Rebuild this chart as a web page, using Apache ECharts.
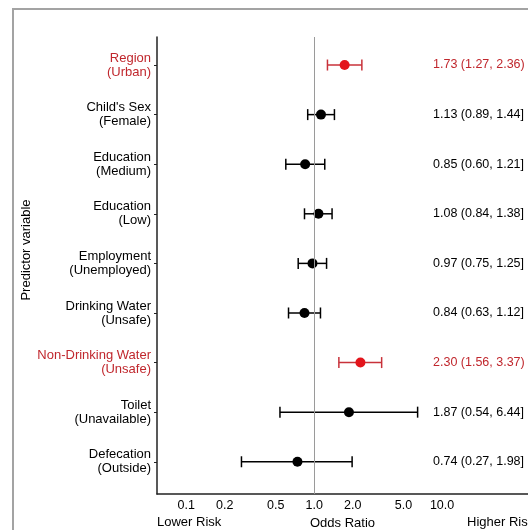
<!DOCTYPE html>
<html>
<head>
<meta charset="utf-8">
<script src="https://cdn.jsdelivr.net/npm/echarts@6/dist/echarts.min.js"></script>
<style>html,body{margin:0;padding:0;background:#fff}#c{width:528px;height:530px}</style>
</head>
<body>
<div id="c"></div>
<script>
const categories = ['Region\n(Urban)', "Child's Sex\n(Female)", 'Education\n(Medium)', 'Education\n(Low)', 'Employment\n(Unemployed)', 'Drinking Water\n(Unsafe)', 'Non-Drinking Water\n(Unsafe)', 'Toilet\n(Unavailable)', 'Defecation\n(Outside)'];
const oddsRatio = [1.73, 1.13, 0.85, 1.08, 0.97, 0.84, 2.30, 1.87, 0.74];
const lowerCI = [1.27, 0.89, 0.60, 0.84, 0.75, 0.63, 1.56, 0.54, 0.27];
const upperCI = [2.36, 1.44, 1.21, 1.38, 1.25, 1.12, 3.37, 6.44, 1.98];
const significant = [true, false, false, false, false, false, true, false, false];
const ciLabels = ['1.73 (1.27, 2.36)', '1.13 (0.89, 1.44]', '0.85 (0.60, 1.21]', '1.08 (0.84, 1.38]', '0.97 (0.75, 1.25]', '0.84 (0.63, 1.12]', '2.30 (1.56, 3.37)', '1.87 (0.54, 6.44]', '0.74 (0.27, 1.98]'];
const xTicks = [0.1, 0.2, 0.5, 1, 2, 5, 10];

const RED_TEXT = '#c0272d', RED_PT = '#e3141b', RED_BAR = '#c8323a';
const FONT = 'Liberation Sans, Arial, Helvetica, sans-serif';
const rowIdx = categories.map((_, i) => i);

const chart = echarts.init(document.getElementById('c'), null, {renderer: 'canvas'});
chart.setOption({
  animation: false,
  textStyle: {fontFamily: FONT},
  graphic: [
    {type: 'rect', shape: {x: 13, y: 9, width: 700, height: 700}, style: {fill: 'none', stroke: '#a3a3a3', lineWidth: 2}, z: -1},
    {type: 'text', x: 26, y: 250, rotation: Math.PI / 2, style: {text: 'Predictor variable', fontSize: 13, fontFamily: FONT, fill: '#000', align: 'center', verticalAlign: 'middle'}},
    {type: 'text', x: 157, y: 522, style: {text: 'Lower Risk', fontSize: 13, fontFamily: FONT, fill: '#000', align: 'left', verticalAlign: 'middle'}},
    {type: 'text', x: 467, y: 522, style: {text: 'Higher Risk', fontSize: 13, fontFamily: FONT, fill: '#000', align: 'left', verticalAlign: 'middle'}}
  ],
  grid: {left: 157, right: 0, top: 37, bottom: 36, containLabel: false, outerBoundsMode: 'none'},
  xAxis: {
    type: 'log', logBase: 10, min: 0.059, max: 47,
    name: 'Odds Ratio', nameLocation: 'middle', nameGap: 21,
    nameTextStyle: {fontSize: 13, color: '#000', fontFamily: FONT},
    axisLine: {show: true, onZero: false, lineStyle: {color: '#222', width: 1.5}},
    axisTick: {show: false},
    splitLine: {show: false},
    minorTick: {show: false},
    axisLabel: {customValues: xTicks, color: '#000', fontSize: 12.5, margin: 5, formatter: v => Number(v).toFixed(1)}
  },
  yAxis: [{
    type: 'value', inverse: true, min: -0.565, max: 8.65,
    axisLine: {show: true, onZero: false, lineStyle: {color: '#222', width: 1.5}},
    axisTick: {show: true, length: 3, customValues: rowIdx, lineStyle: {color: '#222', width: 1}},
    splitLine: {show: false},
    axisLabel: {
      customValues: rowIdx, margin: 6, fontSize: 13, lineHeight: 14, align: 'right',
      formatter: v => categories[Math.round(v)] || '',
      color: v => significant[Math.round(v)] ? RED_TEXT : '#000'
    }
  }, {
    type: 'value', inverse: true, min: -0.565, max: 8.65, position: 'right',
    axisLine: {show: false}, axisTick: {show: false}, splitLine: {show: false},
    axisLabel: {
      customValues: rowIdx, inside: true, margin: 95, align: 'left', fontSize: 12.5,
      formatter: v => ciLabels[Math.round(v)] || '',
      color: v => significant[Math.round(v)] ? RED_TEXT : '#000'
    }
  }],
  series: [{
    type: 'custom',
    data: rowIdx.map(i => [lowerCI[i], upperCI[i], i]),
    encode: {x: [0, 1], y: 2},
    renderItem: (params, api) => {
      const i = api.value(2);
      const p0 = api.coord([api.value(0), i]);
      const p1 = api.coord([api.value(1), i]);
      const col = significant[i] ? RED_BAR : '#000';
      const h = 5.5;
      const st = {stroke: col, lineWidth: 1.5};
      return {type: 'group', children: [
        {type: 'line', shape: {x1: p0[0], y1: p0[1], x2: p1[0], y2: p1[1]}, style: st},
        {type: 'line', shape: {x1: p0[0], y1: p0[1] - h, x2: p0[0], y2: p0[1] + h}, style: st},
        {type: 'line', shape: {x1: p1[0], y1: p1[1] - h, x2: p1[0], y2: p1[1] + h}, style: st}
      ]};
    },
    z: 2
  }, {
    type: 'scatter',
    data: rowIdx.map(i => ({value: [oddsRatio[i], i], itemStyle: {color: significant[i] ? RED_PT : '#000', opacity: 1}})),
    symbolSize: 10,
    itemStyle: {opacity: 1},
    z: 3,
    markLine: {
      silent: true, symbol: 'none', label: {show: false},
      lineStyle: {color: '#9a9a9a', width: 1, type: 'solid'},
      data: [{xAxis: 1}]
    }
  }]
});
</script>
</body>
</html>
